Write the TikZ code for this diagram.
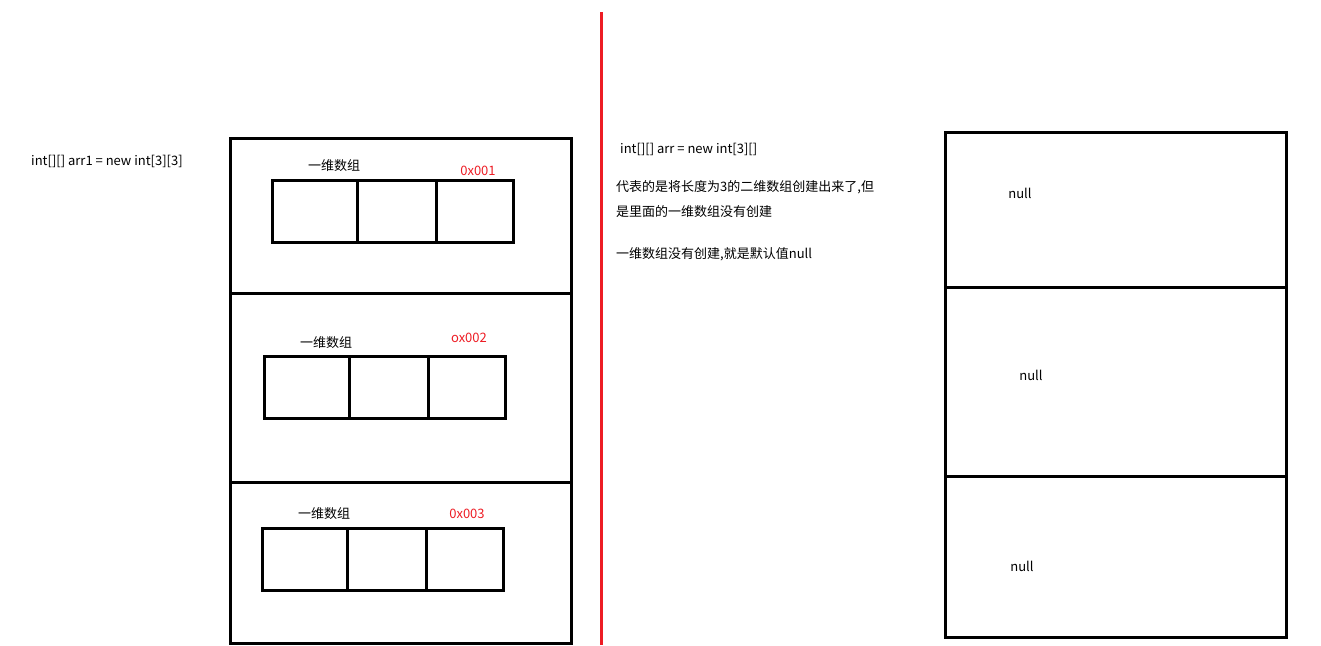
\documentclass[tikz,border=0pt]{standalone}
\usepackage{fontspec}
\newfontfamily\cjk{Noto Sans CJK SC}
\usetikzlibrary{positioning}
\definecolor{memred}{RGB}{237,28,36}

\begin{document}
\begin{tikzpicture}[
    x=1pt, y=-1pt,
    slot/.style={rectangle, draw, line width=3pt, minimum width=341pt,
                 inner sep=0pt, outer sep=0pt},
    cell/.style={rectangle, draw, line width=3pt, minimum height=62pt,
                 inner sep=0pt, outer sep=0pt},
    txt/.style={font=\cjk\fontsize{13}{15}\selectfont, inner sep=0pt},
    addr/.style={txt, text=memred},
    divider/.style={draw=memred, line width=3pt}
]
\useasboundingbox (0,0) rectangle (1321,645);

% left: int[3][3]
\node[txt, anchor=west] (decl1) at (31,161) {int[][] arr1 = new int[3][3]};
\node[slot, minimum height=155pt] (s1) at (400.5,215.5) {};
\node[slot, minimum height=189pt, below=0pt of s1] (s2) {};
\node[slot, minimum height=161pt, below=0pt of s2] (s3) {};

\node[cell, minimum width=85pt] (a1) at (314.5,211) {};
\node[cell, minimum width=79pt, right=0pt of a1] (a2) {};
\node[cell, minimum width=77pt, right=0pt of a2] (a3) {};
\node[txt] (t1) at (334,166) {一维数组};
\node[addr] (x1) at (478,171) {0x001};

\node[cell, minimum width=85pt] (b1) at (306.5,387.5) {};
\node[cell, minimum width=79pt, right=0pt of b1] (b2) {};
\node[cell, minimum width=77pt, right=0pt of b2] (b3) {};
\node[txt] (t2) at (326,343) {一维数组};
\node[addr] (x2) at (469,338) {ox002};

\node[cell, minimum width=85pt] (c1) at (304.5,559) {};
\node[cell, minimum width=79pt, right=0pt of c1] (c2) {};
\node[cell, minimum width=77pt, right=0pt of c2] (c3) {};
\node[txt] (t3) at (324,514) {一维数组};
\node[addr] (x3) at (467,514) {0x003};

% red divider
\coordinate (divtop) at (601,12);
\coordinate (divbot) at (601,645);
\draw[divider] (divtop) -- (divbot);

% right: int[3][]
\node[txt, anchor=west] (decl2) at (620,149) {int[][] arr = new int[3][]};
\node[txt, anchor=west] (n1) at (616,187) {代表的是将长度为3的二维数组创建出来了,但};
\node[txt, anchor=west] (n2) at (616,212) {是里面的一维数组没有创建};
\node[txt, anchor=west] (n3) at (616,254) {一维数组没有创建,就是默认值null};

\node[slot, minimum height=155pt] (r1) at (1115.5,209.5) {};
\node[slot, minimum height=189pt, below=0pt of r1] (r2) {};
\node[slot, minimum height=161pt, below=0pt of r2] (r3) {};
\node[txt] (null1) at (1020,193) {null};
\node[txt] (null2) at (1031,375) {null};
\node[txt] (null3) at (1022,566) {null};

\end{tikzpicture}
\end{document}
